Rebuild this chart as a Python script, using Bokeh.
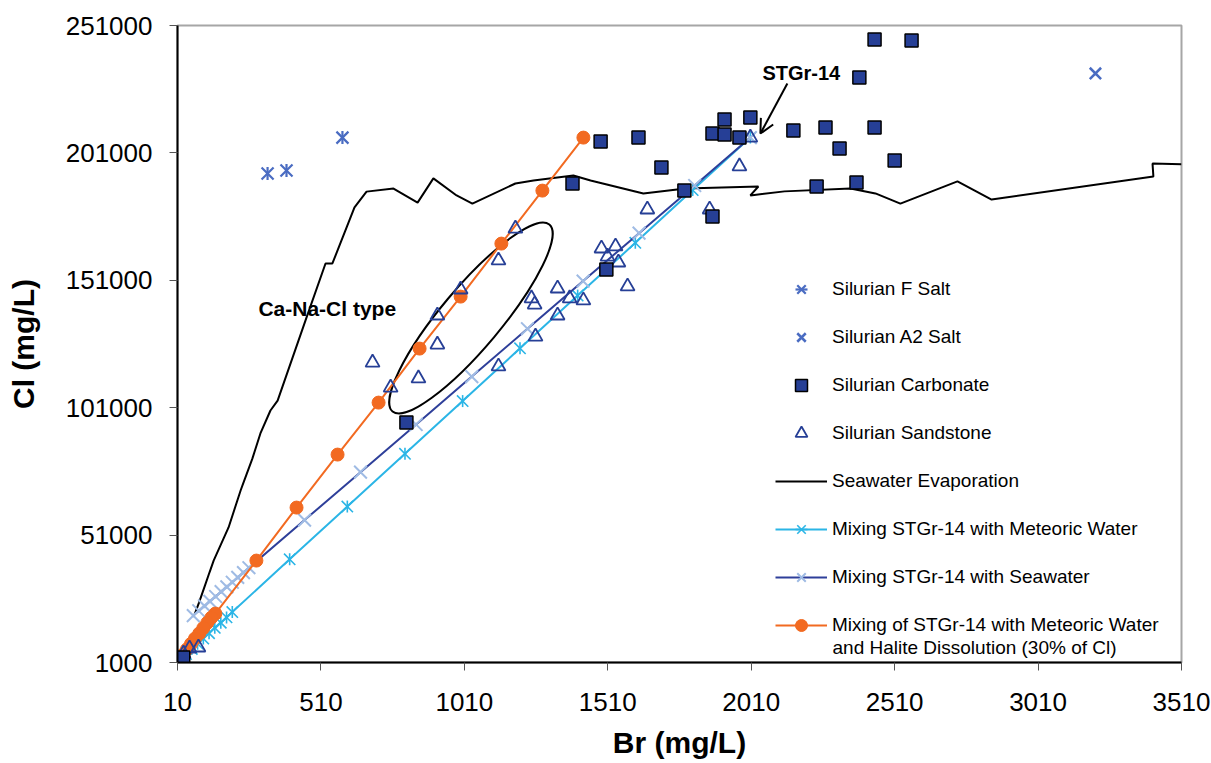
import math
from bokeh.plotting import figure
from bokeh.models import (FixedTicker, Range1d, Legend, LegendItem, Label, Arrow,
                          OpenHead, BasicTickFormatter)
from bokeh.embed import file_html
from bokeh.resources import INLINE

# ---------------- data ----------------
x_ticks = [10, 510, 1010, 1510, 2010, 2510, 3010, 3510]
y_ticks = [1000, 51000, 101000, 151000, 201000, 251000]

f_salt_br = [324, 390, 585]
f_salt_cl = [192900, 194100, 207000]

a2_salt_br = [3210]
a2_salt_cl = [232200]

carb_br = [10, 30, 808, 1505, 1387, 1485, 1617, 1697, 1777, 1875, 1875, 1917, 1917,
           1969, 2007, 2157, 2269, 2318, 2440, 2510, 2238, 2377, 2387, 2440, 2569]
carb_cl = [1000, 3000, 95200, 155200, 189000, 205500, 207000, 195300, 186200, 176000,
           208600, 214100, 208200, 207000, 214900, 209800, 211000, 202700, 211000,
           198000, 187800, 189400, 230600, 245500, 245100]

sand_br = [1188, 1129, 997, 916, 916, 690, 753, 850, 1648, 1865, 1488, 1537, 1509,
           1547, 1579, 1335, 1377, 1425, 1244, 1255, 1335, 1258, 1129, 2007, 1969,
           52, 83, 31]
sand_cl = [171300, 158800, 147400, 137200, 125800, 118700, 108900, 112500, 178800,
           178800, 163500, 164300, 160300, 158000, 148600, 147800, 143900, 143100,
           143900, 141500, 137200, 128900, 117200, 207000, 195700, 6500, 6900, 4500]

evap_br = [70, 85, 105, 122, 136, 188, 230, 240, 271, 299, 334, 359, 456, 526, 550,
           627, 669, 763, 847, 902, 983, 1038, 1188, 1251, 1390, 1450, 1634, 1781,
           2035, 2007, 2126, 2356, 2443, 2530, 2729, 2848, 3412, 3409, 3510]
evap_cl = [20000, 24500, 31000, 36500, 41000, 54000, 68500, 71600, 81000, 90900,
           99900, 103800, 135200, 157600, 157600, 179600, 185800, 187000, 181500,
           191000, 184300, 181100, 189000, 190200, 192100, 190200, 185100, 187000,
           187800, 184300, 185900, 187000, 185100, 181100, 189800, 182700, 191700,
           196800, 196500]

meteo_br = [2007, 1806, 1606, 1405, 1204, 1004, 803, 602, 401, 201, 181, 161, 140,
            120, 100, 80, 60, 40, 20, 10]
meteo_cl = [207000, 186400, 165700, 145000, 124300, 103600, 82900, 62200, 41500,
            20800, 18700, 16600, 14600, 12500, 10400, 8400, 6300, 4300, 2200, 1000]

sea_br = [2007, 1813, 1619, 1424, 1230, 1036, 842, 648, 453, 259, 240, 220, 201, 182,
          162, 143, 123, 104, 84, 65]
sea_cl = [207000, 188200, 169500, 150700, 132000, 113200, 94400, 75700, 56900,
          38200, 36300, 34400, 32500, 30700, 28800, 26900, 25000, 23200, 21300, 19400]

halite_br = [1425, 1282, 1139, 997, 854, 711, 568, 425, 285, 142, 128, 114, 100, 86,
             71, 57, 43, 29, 14, 10]
halite_cl = [207000, 186200, 165400, 144600, 124200, 103000, 82600, 61800, 41000,
             20200, 18600, 16600, 14500, 12400, 10400, 8300, 6200, 4100, 2100, 1000]

# ---------------- styles ----------------
FONT = "Liberation Sans"
C_SALT = "#4a6cc2"
C_NAVY = "#263f96"
C_METEO = "#2bb5e6"
C_SEA_LINE = "#2e3f9a"
C_SEA_MK = "#9fbbe4"
C_ORANGE = "#f26a21"

p = figure(width=1211, height=763, output_backend="svg", toolbar_location=None,
           x_range=Range1d(10, 3510), y_range=Range1d(1000, 251000),
           min_border_left=177, min_border_right=30, min_border_top=25,
           min_border_bottom=101)
p.xgrid.visible = False
p.ygrid.visible = False
p.outline_line_color = "#a6a6a6"
p.outline_line_width = 2
p.background_fill_color = "white"
p.border_fill_color = "white"

p.xaxis.ticker = FixedTicker(ticks=x_ticks)
p.yaxis.ticker = FixedTicker(ticks=y_ticks)
p.xaxis.formatter = BasicTickFormatter(use_scientific=False)
p.yaxis.formatter = BasicTickFormatter(use_scientific=False)
for ax in (p.xaxis[0], p.yaxis[0]):
    ax.axis_line_color = "black"
    ax.axis_line_width = 2
    ax.major_tick_out = 8
    ax.major_tick_in = 0
    ax.minor_tick_out = 0
    ax.minor_tick_in = 0
    ax.major_tick_line_color = "#555555"
    ax.major_label_text_font = FONT
    ax.major_label_text_font_size = "26px"
    ax.major_label_text_color = "black"
    ax.axis_label_text_font = FONT
    ax.axis_label_text_font_size = "30px"
    ax.axis_label_text_font_style = "bold"
    ax.axis_label_text_color = "black"
p.xaxis.axis_label = "Br (mg/L)"
p.yaxis.axis_label = "Cl (mg/L)"
p.yaxis.major_label_standoff = 17
p.xaxis.major_label_standoff = 22
p.yaxis.axis_label_standoff = 23
p.xaxis.axis_label_standoff = 12

# ---------------- glyphs ----------------
r_evap = p.line(evap_br, evap_cl, line_color="black", line_width=2)

p.ellipse(x=[1033], y=[136200], width=244, height=60, angle=0.873,
          width_units="screen", height_units="screen",
          fill_color=None, line_color="black", line_width=2)

r_met_l = p.line(meteo_br, meteo_cl, line_color=C_METEO, line_width=2)
r_met_x = p.scatter(meteo_br, meteo_cl, marker="x", size=16, line_color=C_METEO, line_width=1.6)
r_met_d = p.scatter(meteo_br, meteo_cl, marker="dash", size=12, angle=math.pi / 2,
                    line_color=C_METEO, line_width=1.6)

r_sea_l = p.line(sea_br, sea_cl, line_color=C_SEA_LINE, line_width=2)
r_sea_x = p.scatter(sea_br, sea_cl, marker="x", size=18, line_color=C_SEA_MK, line_width=2)

r_hal_l = p.line(halite_br, halite_cl, line_color=C_ORANGE, line_width=2)
r_hal_c = p.scatter(halite_br, halite_cl, marker="circle", size=13,
                    fill_color=C_ORANGE, line_color=C_ORANGE)

r_sand = p.scatter(sand_br, sand_cl, marker="triangle", size=14, fill_color=None,
                   line_color=C_NAVY, line_width=1.8)
r_carb = p.scatter(carb_br, carb_cl, marker="square", size=13, fill_color=C_NAVY,
                   line_color="black", line_width=1.5)

r_f_x = p.scatter(f_salt_br, f_salt_cl, marker="x", size=17, line_color=C_SALT, line_width=2.2)
r_f_d = p.scatter(f_salt_br, f_salt_cl, marker="dash", size=13, angle=math.pi / 2,
                  line_color=C_SALT, line_width=2.2)
r_a2 = p.scatter(a2_salt_br, a2_salt_cl, marker="x", size=16, line_color=C_SALT, line_width=2.5)

# ---------------- annotations ----------------
p.add_layout(Arrow(end=OpenHead(size=14, line_width=2, line_color="black"),
                   x_start=2136, y_start=228200, x_end=2042, y_end=208600,
                   line_width=2, line_color="black"))
p.add_layout(Label(x=2049, y=232550, text="STGr-14", text_font=FONT,
                   text_font_size="20px", text_font_style="bold",
                   text_baseline="middle", text_align="left", text_color="black"))
p.add_layout(Label(x=292, y=139900, text="Ca-Na-Cl type", text_font=FONT,
                   text_font_size="21px", text_font_style="bold",
                   text_baseline="middle", text_align="left", text_color="black"))

legend = Legend(items=[
    LegendItem(label="Silurian F Salt", renderers=[r_f_x, r_f_d]),
    LegendItem(label="Silurian A2 Salt", renderers=[r_a2]),
    LegendItem(label="Silurian Carbonate", renderers=[r_carb]),
    LegendItem(label="Silurian Sandstone", renderers=[r_sand]),
    LegendItem(label="Seawater Evaporation", renderers=[r_evap]),
    LegendItem(label="Mixing STGr-14 with Meteoric Water", renderers=[r_met_l, r_met_x, r_met_d]),
    LegendItem(label="Mixing STGr-14 with Seawater", renderers=[r_sea_l, r_sea_x]),
    LegendItem(label="Mixing of STGr-14 with Meteoric Water", renderers=[r_hal_l, r_hal_c]),
], location=(598, 22), padding=0, margin=0, spacing=18, glyph_width=52,
    glyph_height=30, label_height=30, label_standoff=5,
    label_text_font=FONT, label_text_font_size="19px", label_text_color="black",
    border_line_color=None, background_fill_alpha=0)
p.add_layout(legend)

p.add_layout(Label(x=655, y=15, x_units="screen", y_units="screen",
                   text="and Halite Dissolution (30% of Cl)", text_font=FONT,
                   text_font_size="19px", text_baseline="middle", text_align="left",
                   text_color="black"))

open("out.html", "w").write(file_html(p, INLINE))
